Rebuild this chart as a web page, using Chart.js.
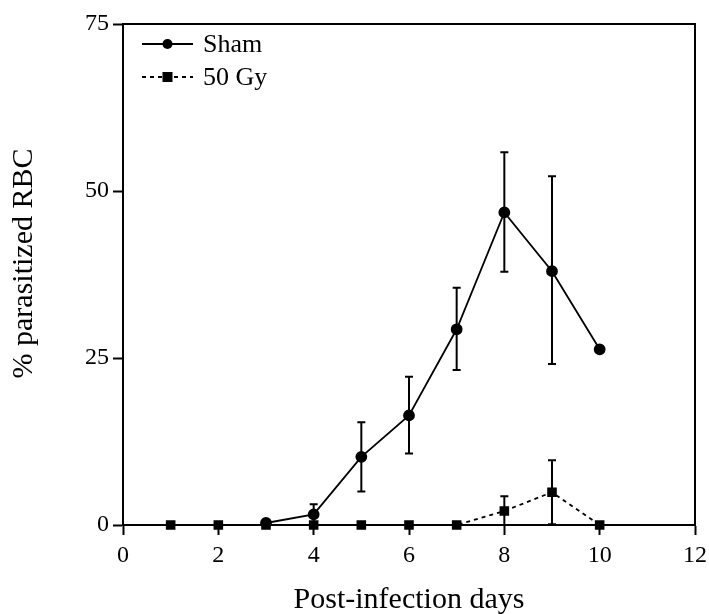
<!DOCTYPE html>
<html>
<head>
<meta charset="utf-8">
<script src="https://cdn.jsdelivr.net/npm/chart.js@4.4.1/dist/chart.umd.min.js"></script>
<style>
  html, body { margin: 0; padding: 0; background: #fff; }
  #wrap { width: 709px; height: 614px; }
</style>
</head>
<body>
<div id="wrap"><canvas id="chart" width="709" height="614"></canvas></div>
<script>
// Sham group (days 3-10), mean and error bar ends
const shamDays = [3, 4, 5, 6, 7, 8, 9, 10];
const shamMean = [0.3, 1.6, 10.2, 16.4, 29.3, 46.8, 38.0, 26.3];
const shamHigh = [null, 3.1, 15.4, 22.2, 35.5, 55.8, 52.2, null];
const shamLow = [null, 0.1, 5.0, 10.7, 23.2, 37.9, 24.1, null];

// 50 Gy group (days 1-10)
const gyDays = [1, 2, 3, 4, 5, 6, 7, 8, 9, 10];
const gyMean = [0, 0, 0, 0, 0, 0, 0, 2.1, 4.9, 0];
const gyHigh = [null, null, null, null, null, null, null, 4.3, 9.7, null];
const gyLow = [null, null, null, null, null, null, null, 0, 0.1, null];

const xTicks = [0, 2, 4, 6, 8, 10, 12];
const yTicks = [0, 25, 50, 75];
const yTitle = '% parasitized RBC';

const SERIF = '"Liberation Serif", "Times New Roman", serif';

const toPoints = (xs, ys) => xs.map((x, i) => ({x: x, y: ys[i]}));

/**
 * Error bars with small caps, drawn through the scales.
 */
const errorBars = {
    id: 'errorBars',
    afterDatasetsDraw(chart) {
        const ctx = chart.ctx;
        const xs = chart.scales.x;
        const ys = chart.scales.y;
        chart.data.datasets.forEach((ds) => {
            if (!ds.errHigh) {
                return;
            }
            ds.data.forEach((p, i) => {
                const hi = ds.errHigh[i];
                const lo = ds.errLow[i];
                if (hi === null || lo === null) {
                    return;
                }
                const px = xs.getPixelForValue(p.x);
                const pHi = ys.getPixelForValue(hi);
                const pLo = ys.getPixelForValue(lo);
                ctx.save();
                ctx.strokeStyle = '#000';
                ctx.lineWidth = 2;
                ctx.beginPath();
                ctx.moveTo(px, pHi);
                ctx.lineTo(px, pLo);
                ctx.moveTo(px - 4, pHi);
                ctx.lineTo(px + 4, pHi);
                ctx.moveTo(px - 4, pLo);
                ctx.lineTo(px + 4, pLo);
                ctx.stroke();
                ctx.restore();
            });
        });
    },
};

/**
 * Top and right edges of the plot box, the y title and the legend.
 */
const boxAndLegend = {
    id: 'boxAndLegend',
    afterDraw(chart) {
        const ctx = chart.ctx;
        const a = chart.chartArea;
        ctx.save();
        ctx.strokeStyle = '#000';
        ctx.lineWidth = 2;
        ctx.beginPath();
        ctx.moveTo(a.left, a.top);
        ctx.lineTo(a.right, a.top);
        ctx.lineTo(a.right, a.bottom);
        ctx.stroke();

        // y axis title, a little above the middle like the original
        ctx.save();
        ctx.translate(24, (a.top + a.bottom) / 2 - 11);
        ctx.rotate(-Math.PI / 2);
        ctx.font = '30px ' + SERIF;
        ctx.fillStyle = '#000';
        ctx.textAlign = 'center';
        ctx.textBaseline = 'middle';
        ctx.fillText(yTitle, 0, 0);
        ctx.restore();

        const x0 = a.left + 19;
        const x1 = a.left + 70;
        const mid = (x0 + x1) / 2;
        ctx.font = '26px ' + SERIF;
        ctx.fillStyle = '#000';
        ctx.textBaseline = 'middle';
        chart.data.datasets.forEach((ds, i) => {
            const y = a.top + 20 + i * 33;
            ctx.lineWidth = 1.8;
            ctx.setLineDash(ds.borderDash || []);
            ctx.beginPath();
            ctx.moveTo(x0, y);
            ctx.lineTo(x1, y);
            ctx.stroke();
            ctx.setLineDash([]);
            if (ds.pointStyle === 'rect') {
                ctx.fillRect(mid - 5, y - 5, 10, 10);
            } else {
                ctx.beginPath();
                ctx.arc(mid, y, 5, 0, Math.PI * 2);
                ctx.fill();
            }
            ctx.fillText(ds.label, x1 + 10, y + 1);
        });
        ctx.restore();
    },
};

new Chart(document.getElementById('chart'), {
    type: 'line',
    data: {
        datasets: [
            {
                label: 'Sham',
                data: toPoints(shamDays, shamMean),
                errHigh: shamHigh,
                errLow: shamLow,
                borderColor: '#000',
                backgroundColor: '#000',
                borderWidth: 1.8,
                pointStyle: 'circle',
                pointRadius: 5,
                pointHoverRadius: 5,
                tension: 0,
                clip: false,
            },
            {
                label: '50 Gy',
                data: toPoints(gyDays, gyMean),
                errHigh: gyHigh,
                errLow: gyLow,
                borderColor: '#000',
                backgroundColor: '#000',
                borderWidth: 1.8,
                borderDash: [4, 4],
                pointStyle: 'rect',
                pointRadius: 5.5,
                pointHoverRadius: 5.5,
                tension: 0,
                clip: false,
            },
        ],
    },
    options: {
        responsive: false,
        animation: false,
        events: [],
        layout: {padding: {top: 24, right: 14, left: 0, bottom: 0}},
        plugins: {
            legend: {display: false},
            tooltip: {enabled: false},
        },
        scales: {
            x: {
                type: 'linear',
                min: 0,
                max: 12,
                afterBuildTicks: (scale) => {
                    scale.ticks = xTicks.map((v) => ({value: v}));
                },
                afterFit: (scale) => {
                    scale.height = 89;
                    scale.paddingRight = 0;
                },
                grid: {
                    drawOnChartArea: false,
                    drawTicks: true,
                    tickLength: 10,
                    tickColor: '#000',
                    tickWidth: 2,
                },
                border: {display: true, color: '#000', width: 2},
                ticks: {
                    color: '#000',
                    padding: 6,
                    font: {family: SERIF, size: 24},
                },
                title: {
                    display: true,
                    text: 'Post-infection days',
                    color: '#000',
                    padding: {top: 0, bottom: -4},
                    font: {family: SERIF, size: 30},
                },
            },
            y: {
                min: 0,
                max: 75,
                afterBuildTicks: (scale) => {
                    scale.ticks = yTicks.map((v) => ({value: v}));
                },
                afterFit: (scale) => {
                    scale.width = 123;
                },
                grid: {
                    drawOnChartArea: false,
                    drawTicks: true,
                    tickLength: 10,
                    tickColor: '#000',
                    tickWidth: 2,
                },
                border: {display: true, color: '#000', width: 2},
                ticks: {
                    color: '#000',
                    padding: 4,
                    font: {family: SERIF, size: 24},
                },
            },
        },
    },
    plugins: [errorBars, boxAndLegend],
});
</script>
</body>
</html>
